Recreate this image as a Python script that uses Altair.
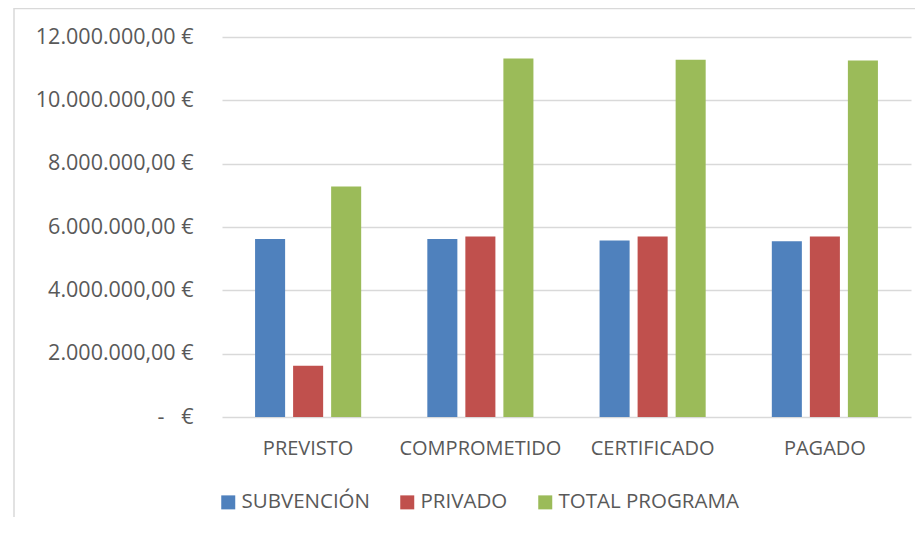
import altair as alt
import pandas as pd

categories = ["PREVISTO", "COMPROMETIDO", "CERTIFICADO", "PAGADO"]
series = ["SUBVENCIÓN", "PRIVADO", "TOTAL PROGRAMA"]
subvencion = [5620000, 5620000, 5570000, 5550000]
privado = [1620000, 5700000, 5700000, 5700000]
total_programa = [7280000, 11320000, 11280000, 11260000]
colors = ["#4F81BD", "#C0504D", "#9BBB59"]
tick_values = [0, 2000000, 4000000, 6000000, 8000000, 10000000, 12000000]
tick_labels = ["-\u00a0\u00a0\u00a0€", "2.000.000,00 €", "4.000.000,00 €", "6.000.000,00 €",
               "8.000.000,00 €", "10.000.000,00 €", "12.000.000,00 €"]

rows = []
for name, vals in zip(series, [subvencion, privado, total_programa]):
    for c, v in zip(categories, vals):
        rows.append({"cat": c, "serie": name, "valor": v})
df = pd.DataFrame(rows)

label_map = "{" + ", ".join(f"'{v}': '{l}'" for v, l in zip(tick_values, tick_labels)) + "}"
label_expr = label_map + "['' + datum.value]"

FONT = "Open Sans"
TXT = "#595959"

bars = alt.Chart(df).mark_bar().encode(
    x=alt.X("cat:N", sort=categories, title=None,
            scale=alt.Scale(paddingInner=0.384, paddingOuter=0.192),
            axis=alt.Axis(labelAngle=0, labelFont=FONT, labelFontSize=20, labelColor=TXT,
                          labelPadding=21, ticks=False, tickSize=0, domain=False, grid=False)),
    xOffset=alt.XOffset("serie:N", sort=series,
                        scale=alt.Scale(paddingInner=0.21, paddingOuter=0)),
    y=alt.Y("valor:Q", title=None,
            scale=alt.Scale(domain=[0, 12000000], nice=False),
            axis=alt.Axis(values=tick_values, labelExpr=label_expr, labelFont=FONT,
                          labelFontSize=21.5, labelColor=TXT, labelPadding=29,
                          ticks=False, tickSize=0, domain=False, grid=True,
                          gridColor="#D9D9D9", gridWidth=1.3)),
    color=alt.Color("serie:N", sort=series,
                    scale=alt.Scale(domain=series, range=colors),
                    legend=alt.Legend(title=None, orient="none", direction="horizontal",
                                      legendX=-4, legendY=455, symbolType="square",
                                      symbolSize=196, symbolStrokeWidth=0,
                                      labelFont=FONT, labelFontSize=20.5, labelColor=TXT,
                                      labelLimit=400, labelOffset=3, columnPadding=27)),
)

frame = alt.Chart(alt.Data(values=[{}])).mark_rect(
    fill="transparent", stroke="#D9D9D9", strokeWidth=1.5
).encode(
    x=alt.value(-208), x2=alt.value(720), y=alt.value(-28.5), y2=alt.value(520)
)

chart = alt.layer(frame, bars).properties(
    width=689, height=380,
    autosize=alt.AutoSizeParams(type="none"),
    padding={"left": 214, "top": 29, "right": 4, "bottom": 100},
).configure_view(stroke=None)

chart.save("out.html", embed_options={"renderer": "svg", "actions": False})
